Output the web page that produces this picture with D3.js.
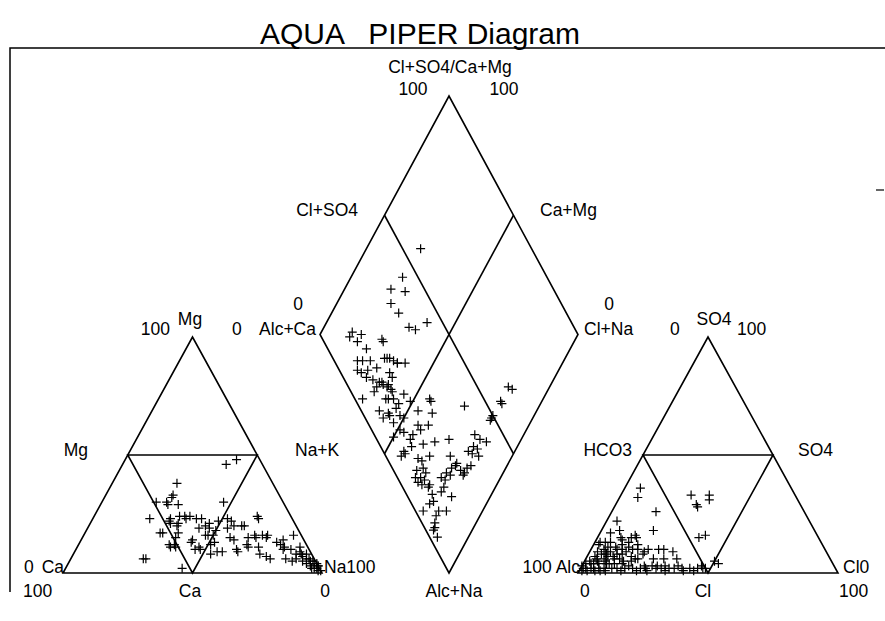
<!DOCTYPE html>
<html>
<head>
<meta charset="utf-8">
<script src="https://cdn.jsdelivr.net/npm/d3@7"></script>
<style>
  body { margin: 0; background: #fff; }
  svg { display: block; font-family: "Liberation Sans", Arial, Helvetica, sans-serif; }
</style>
</head>
<body>
<svg id="chart" width="885" height="621"></svg>
<script>
// ---- Dados (percentagens)
// catiões: [Mg %, Na+K %]  (Ca = 100 - Mg - Na)
const cations = [
  [46,40],[48,43],[38,25],[33,26],[32,26],[30,21],[30,25],[29,26],[29,30],[30,47],
  [23,22],[22,30],[23,30],[24,33],[23,36],[23,40],[24,37],[23,42],[24,35],[20,34],
  [21,31],[21,34],[17,29],[17,30],[17,36],[15,36],[11,36],[11,38],[12,35],[12,37],
  [6,28],[6,29],[2,45],[19,43],[19,47],[18,50],[16,47],[14,43],[13,43],[11,47],
  [10,46],[10,48],[13,52],[12,51],[9,55],[8,53],[22,49],[22,54],[20,56],[20,60],
  [19,54],[15,57],[10,62],[14,59],[24,63],[23,64],[15,64],[15,67],[15,71],[11,66],
  [11,70],[8,72],[7,75],[6,77],[14,78],[11,80],[10,83],[16,81],[11,86],[8,88],
  [8,90],[6,92],[5,94],[4,96],[3,97],[6,83],[5,86],[6,87],[23,52],[20,59],
  [16,69],[16,71],[9,57],[13,76],[12,78],[8,86],[9,87],[4,92],[5,93],[3,94],
  [4,95],[2,96],[2,97],[1,98],[2,95],[6,91],[7,89],[5,90],[3,97],[1,99],
  [16,48],[16,50],[21,46],[20,45],[16,66],[12,65],[9,63],[10,80]
];

// aniões: [Cl %, SO4 %]  (HCO3 = 100 - Cl - SO4)
const anions = [
  [6,36],[7,32],[27,33],[34,33],[35,31],[31,29],[32,28],[17,26],[4,22],[20,18],
  [39,15],[41,16],[4,17],[7,18],[9,15],[14,16],[2,13],[6,13],[13,13],[17,12],
  [22,10],[26,10],[28,10],[32,9],[19,6],[26,6],[30,6],[35,6],[50,5],[52,4],
  [2,12],[6,11],[10,10],[14,11],[16,10],[18,10],[5,8],[7,8],[8,9],[11,8],
  [13,8],[14,9],[4,6],[7,6],[8,7],[11,6],[13,6],[15,5],[17,7],[3,4],
  [4,4],[6,4],[9,4],[10,4],[12,4],[15,4],[18,3],[21,8],[21,9],[18,5],
  [20,6],[13,15],[15,15],[10,14],[4,13],[2,2],[5,2],[7,2],[9,2],[12,2],
  [14,2],[17,2],[20,2],[23,2],[25,2],[29,2],[31,2],[34,2],[36,2],[39,2],
  [42,2],[45,2],[47,2],[48,2],[27,3],[29,3],[32,3],[37,3],[46,3],[1,2],
  [0,3],[1,1],[3,9],[5,10],[9,11],[11,12],[3,7],[5,5],[8,5],[10,7],
  [12,10],[6,9],[2,5],[1,4],[4,2],[3,1],[6,1],[8,1],[10,1],[16,1],
  [22,1],[24,3],[26,1],[33,1],[40,1],[44,1]
];

// losango: [Cl+SO4 %, Ca+Mg %]
const diamond = [
  [57,79],[44,80],[37,82],[42,76],[34,79],[35,74],[36,67],[38,64],[44,61],[13,88],
  [11,88],[16,84],[13,84],[23,75],[15,79],[9,80],[11,78],[14,75],[20,70],[22,68],
  [24,64],[27,61],[7,78],[8,76],[11,74],[15,71],[19,65],[9,73],[11,70],[13,67],
  [16,63],[11,67],[14,65],[16,61],[9,67],[3,70],[12,61],[13,60],[15,58],[20,55],
  [21,51],[29,44],[7,61],[14,55],[22,46],[27,40],[10,56],[14,52],[62,16],[63,14],
  [56,16],[56,15],[41,29],[50,16],[49,16],[48,16],[29,43],[23,39],[28,28],[22,33],
  [13,43],[12,41],[17,37],[19,43],[19,41],[15,43],[8,43],[8,42],[6,43],[17,32],
  [12,36],[13,34],[39,19],[40,16],[42,13],[36,17],[33,18],[37,15],[34,16],[36,13],
  [25,24],[25,20],[26,17],[27,15],[26,20],[29,15],[31,14],[26,15],[23,21],[20,22],
  [17,23],[18,21],[21,20],[9,34],[9,31],[10,29],[11,26],[12,30],[12,32],[7,33],
  [7,31],[10,26],[8,29],[10,23],[9,21],[7,22],[14,20],[16,20],[17,15],[3,23],
  [9,17],[12,14],[7,17],[5,16],[4,15],[3,12],[3,15],[23,74],[21,69],[23,66],
  [24,64],[19,63],[14,66],[15,63],[16,60],[16,55],[10,57],[15,50],[7,58],[10,53],
  [11,49],[12,47],[7,50]
];

// ---- Escalas
const svg = d3.select('#chart');

const catX = d3.scaleLinear().domain([0, 100]).range([63, 322]);
const anX = d3.scaleLinear().domain([0, 100]).range([578, 838]);
const triY = d3.scaleLinear().domain([0, 100]).range([573, 337]);
const diaX = d3.scaleLinear().domain([-100, 100]).range([320, 578]);
const diaY = d3.scaleLinear().domain([0, 200]).range([573, 96]);

const catPos = (mg, na) => [catX(na + mg / 2), triY(mg)];
const anPos = (cl, so4) => [anX(cl + so4 / 2), triY(so4)];
const diaPos = (a, b) => [diaX(a - b), diaY(a + b)];

const line = d3.line();

// ---- Moldura
svg.append('path')
  .attr('d', 'M885,48H10V592')
  .attr('fill', 'none')
  .attr('stroke', 'black')
  .attr('stroke-width', 1.5);
svg.append('path')
  .attr('d', 'M876,190H884')
  .attr('stroke', 'black')
  .attr('stroke-width', 1.2);

// ---- Contornos
const outlines = svg.append('g')
  .attr('fill', 'none')
  .attr('stroke', 'black')
  .attr('stroke-width', 1.6)
  .attr('stroke-linejoin', 'miter');

[catPos, anPos].forEach(pos => {
  outlines.append('path').attr('d', line([pos(0, 0), pos(0, 100), pos(100, 0)]) + 'Z');
  outlines.append('path').attr('d', line([pos(0, 50), pos(50, 50), pos(50, 0)]) + 'Z');
});

outlines.append('path').attr('d', line([diaPos(0, 0), diaPos(100, 0), diaPos(100, 100), diaPos(0, 100)]) + 'Z');
outlines.append('path').attr('d', line([diaPos(50, 0), diaPos(50, 100)]));
outlines.append('path').attr('d', line([diaPos(0, 50), diaPos(100, 50)]));

// ---- Pontos (+)
const plus = 'M-4.5,0H4.5M0,-4.5V4.5';
const marks = svg.append('g')
  .attr('stroke', 'black')
  .attr('stroke-width', 1.2)
  .attr('fill', 'none');

const drawPoints = (data, pos) => {
  marks.append('g').selectAll('path')
    .data(data)
    .join('path')
    .attr('d', plus)
    .attr('transform', d => `translate(${pos(d[0], d[1])})`);
};
drawPoints(cations, catPos);
drawPoints(anions, anPos);
drawPoints(diamond, diaPos);

// ---- Textos
const label = (text, x, y, anchor = 'start', size = 17.5) => {
  svg.append('text')
    .attr('x', x)
    .attr('y', y)
    .attr('text-anchor', anchor)
    .attr('font-size', size)
    .attr('fill', 'black')
    .style('white-space', 'pre')
    .text(text);
};

label('AQUA   PIPER Diagram', 420, 44, 'middle', 30);

// losango
label('Cl+SO4/Ca+Mg', 450, 73, 'middle');
label('100', 413, 95, 'middle');
label('100', 504, 95, 'middle');
label('Cl+SO4', 358, 216, 'end');
label('Ca+Mg', 540, 216);
label('0', 298, 310, 'middle');
label('0', 232, 335);
label('Alc+Ca', 316, 335, 'end');
label('0', 609, 310, 'middle');
label('Cl+Na', 584, 335);
label('Alc+Na', 454, 597, 'middle');

// triângulo dos catiões
label('100', 170, 335, 'end');
label('Mg', 190, 325, 'middle');
label('Mg', 88, 456, 'end');
label('Na+K', 295, 456);
label('0', 24, 573);
label('Ca', 64, 573, 'end');
label('Na100', 324, 573);
label('100', 23, 597);
label('Ca', 190, 597, 'middle');
label('0', 325, 597, 'middle');

// triângulo dos aniões
label('0', 670, 335);
label('SO4', 714, 325, 'middle');
label('100', 737, 335);
label('HCO3', 632, 456, 'end');
label('SO4', 798, 456);
label('100 Alc', 580, 573, 'end');
label('Cl0', 843, 573);
label('0', 580, 597);
label('Cl', 703, 597, 'middle');
label('100', 839, 597);
</script>
</body>
</html>
